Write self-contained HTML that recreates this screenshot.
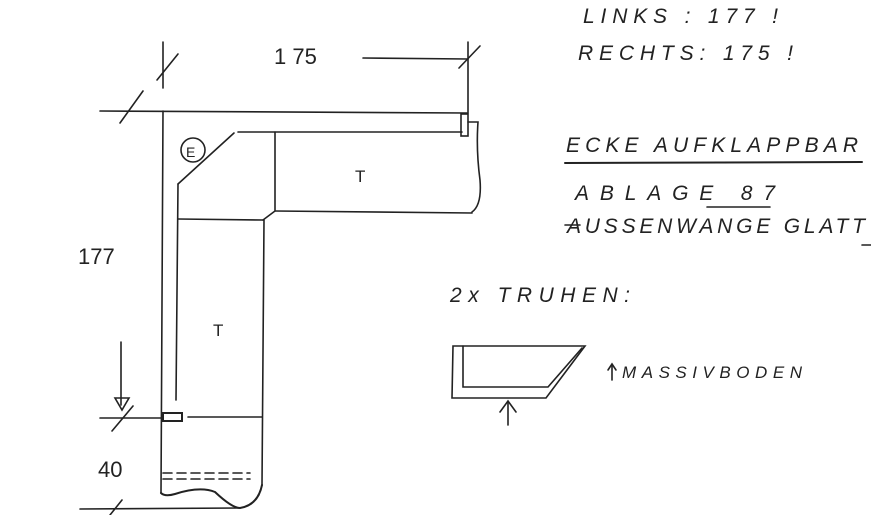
<!DOCTYPE html>
<html><head><meta charset="utf-8"><style>
html,body{margin:0;padding:0;background:#fff;}
svg{display:block}
text{font-family:"Liberation Sans",sans-serif;fill:#222;}
</style></head><body>
<svg width="871" height="515" viewBox="0 0 871 515" xmlns="http://www.w3.org/2000/svg">
<g stroke="#222" stroke-width="1.6" fill="none" stroke-linecap="round">
<line x1="163" y1="42" x2="163" y2="88"/>
<line x1="157" y1="80" x2="178" y2="54"/>
<line x1="120" y1="123" x2="143" y2="91"/>
<line x1="468" y1="42" x2="468" y2="113"/>
<line x1="459" y1="68" x2="480" y2="46"/>
<line x1="363" y1="58" x2="468" y2="59"/>
<line x1="100" y1="111" x2="467" y2="113"/>
<line x1="163" y1="111" x2="161" y2="493"/>
<line x1="238" y1="132" x2="462" y2="132"/>
<rect x="461" y="114" width="7" height="22"/>
<path d="M468 122 L478 122 Q476 150 480 180 Q482 205 472 212"/>
<line x1="275" y1="211" x2="472" y2="213"/>
<line x1="275" y1="132" x2="275" y2="210"/>
<line x1="234" y1="133" x2="178" y2="184"/>
<line x1="178" y1="184" x2="176" y2="400"/>
<line x1="178" y1="219" x2="263" y2="220"/>
<line x1="263" y1="220" x2="275" y2="211"/>
<line x1="264" y1="220" x2="262" y2="485"/>
<circle cx="193" cy="150" r="12"/>
<rect x="163" y="413" width="19" height="8" stroke-width="2"/>
<line x1="188" y1="417" x2="262" y2="417"/>
<path d="M163 473 H250 M163 479 H250" stroke-dasharray="9 5"/>
<path d="M161 493 Q165 497 175 494 Q200 486 215 492 Q232 508 240 508 Q258 505 262 485" stroke-width="2"/>
<line x1="80" y1="509" x2="240" y2="508"/>
<line x1="110" y1="515" x2="122" y2="500"/>
<line x1="121" y1="342" x2="121" y2="405"/>
<path d="M115 398 L129 398 L122 410 Z"/>
<line x1="112" y1="431" x2="133" y2="406"/>
<line x1="100" y1="418" x2="163" y2="418"/>
<line x1="565" y1="163" x2="862" y2="162" stroke-width="2"/>
<line x1="707" y1="207" x2="770" y2="207"/>
<line x1="565" y1="225" x2="580" y2="225"/>
<line x1="862" y1="245" x2="871" y2="245"/>
<path d="M453 346 L585 346 L546 398 L452 398 Z"/>
<path d="M463 346 L463 387 L548 387 L582 348"/>
<line x1="508" y1="425" x2="508" y2="402"/>
<path d="M500 412 L508 401 L516 412"/>
<line x1="612" y1="380" x2="612" y2="365"/>
<path d="M608 370 L612 364 L616 370"/>
</g>
<g font-size="22">
<text x="274" y="64">1 75</text>
<text x="78" y="264">177</text>
<text x="98" y="477">40</text>
<text x="355" y="182" font-size="17">T</text>
<text x="213" y="336" font-size="17">T</text>
<text x="186" y="157" font-size="14">E</text>
</g>
<g font-size="21" font-style="italic">
<text x="583" y="23" textLength="195">LINKS :  177  !</text>
<text x="578" y="60" textLength="215">RECHTS:  175  !</text>
<text x="566" y="152" textLength="292">ECKE AUFKLAPPBAR</text>
<text x="575" y="200" textLength="200">ABLAGE 87</text>
<text x="567" y="233" textLength="298">AUSSENWANGE GLATT</text>
<text x="450" y="302" textLength="180">2x TRUHEN:</text>
<text x="622" y="378" textLength="180" font-size="17">MASSIVBODEN</text>
</g>
</svg>
</body></html>
